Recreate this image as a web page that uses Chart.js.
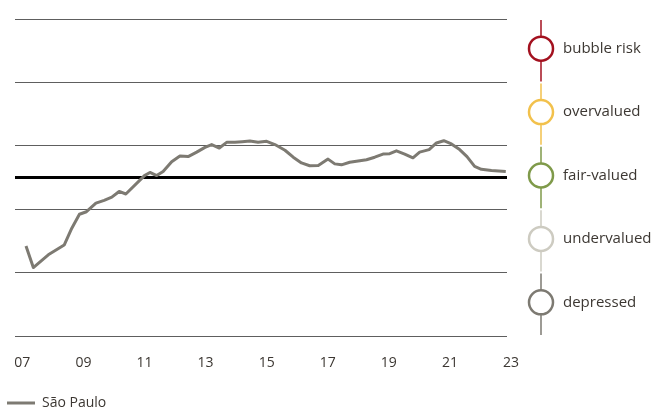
<!DOCTYPE html>
<html>
<head>
<meta charset="utf-8">
<script src="https://cdn.jsdelivr.net/npm/chart.js@4/dist/chart.umd.min.js"></script>
<style>
    html, body { margin: 0; padding: 0; background: #fff; }
    #wrap { width: 657px; height: 408px; }
</style>
</head>
<body>
<div id="wrap"><canvas id="BubbleChart"></canvas></div>
<script>
// Sao Paulo bubble index (decimal years)
var years = [2007.12, 2007.36, 2007.85, 2008.37, 2008.62, 2008.87, 2009.10, 2009.41, 2009.68, 2009.93,
    2010.17, 2010.39, 2011.00, 2011.18, 2011.40, 2011.61, 2011.89, 2012.16, 2012.43, 2012.71,
    2012.98, 2013.20, 2013.45, 2013.69, 2013.96, 2014.20, 2014.45, 2014.72, 2015.00, 2015.27,
    2015.60, 2015.87, 2016.14, 2016.41, 2016.69, 2017.01, 2017.23, 2017.45, 2017.72, 2018.05,
    2018.27, 2018.54, 2018.81, 2019.03, 2019.25, 2019.52, 2019.79, 2020.01, 2020.32, 2020.56,
    2020.80, 2021.05, 2021.32, 2021.56, 2021.81, 2022.03, 2022.36, 2022.83];
var saoPaulo = [-1.08, -1.42, -1.22, -1.065, -0.80, -0.58, -0.54, -0.405, -0.36, -0.31,
    -0.22, -0.26, 0.03, 0.08, 0.03, 0.095, 0.25, 0.34, 0.33, 0.40,
    0.475, 0.52, 0.465, 0.555, 0.555, 0.565, 0.575, 0.555, 0.57, 0.52,
    0.43, 0.32, 0.23, 0.185, 0.19, 0.29, 0.215, 0.20, 0.24, 0.265,
    0.28, 0.32, 0.37, 0.375, 0.42, 0.37, 0.31, 0.40, 0.44, 0.545,
    0.58, 0.53, 0.44, 0.33, 0.175, 0.13, 0.11, 0.095];

var tickYears = [2007, 2009, 2011, 2013, 2015, 2017, 2019, 2021, 2023];
var tickLabels = ["07", "09", "11", "13", "15", "17", "19", "21", "23"];
var gridValues = [-2.5, -1.5, -0.5, 0, 0.5, 1.5, 2.5];

var bandNames = ["bubble risk", "overvalued", "fair-valued", "undervalued", "depressed"];
var bandTops = [2.5, 1.5, 0.5, -0.5, -1.5];
var bandBottoms = [1.5, 0.5, -0.5, -1.5, -2.5];
var bandColours = ["#a3111f", "#f2c14c", "#7f9a4a", "#cdcbc1", "#7d7a72"];

var textColour = "#3c3732";
var fontFamily = "'Open Sans', 'Noto Sans', sans-serif";

var bandScale = {
    id: "bandScale",
    afterDraw: function (chart) {
        var ctx = chart.ctx;
        var y = chart.scales.y;
        var cx = chart.chartArea.right + 34;
        ctx.save();
        bandNames.forEach(function (name, i) {
            var top = y.getPixelForValue(bandTops[i]) + 1;
            var bottom = y.getPixelForValue(bandBottoms[i]) - 1;
            ctx.strokeStyle = bandColours[i];
            ctx.lineWidth = 1.5;
            ctx.beginPath();
            ctx.moveTo(cx, top);
            ctx.lineTo(cx, bottom);
            ctx.stroke();
        });
        bandNames.forEach(function (name, i) {
            var mid = y.getPixelForValue((bandTops[i] + bandBottoms[i]) / 2) - 2;
            ctx.beginPath();
            ctx.arc(cx, mid, 12, 0, Math.PI * 2);
            ctx.fillStyle = "#fff";
            ctx.fill();
            ctx.lineWidth = 2.5;
            ctx.strokeStyle = bandColours[i];
            ctx.stroke();
            ctx.fillStyle = textColour;
            ctx.font = "15px " + fontFamily;
            ctx.textBaseline = "middle";
            ctx.textAlign = "left";
            ctx.fillText(name, cx + 22, mid);
        });
        ctx.restore();
    }
};

function setupChart() {
    var context = document.getElementById("BubbleChart").getContext("2d");
    var points = years.map(function (year, i) {
        return { x: year, y: saoPaulo[i] };
    });
    var chart = new Chart(context, {
        type: "line",
        data: {
            datasets: [{
                label: "São Paulo",
                data: points,
                borderColor: "#7d7a72",
                backgroundColor: "#7d7a72",
                borderWidth: 3,
                pointRadius: 0,
                tension: 0,
                borderJoinStyle: "round"
            }]
        },
        options: {
            responsive: true,
            maintainAspectRatio: false,
            animation: false,
            layout: { padding: { left: 6, right: 150, top: 19, bottom: -12 } },
            scales: {
                x: {
                    type: "linear",
                    min: 2006.76,
                    max: 2022.87,
                    grid: { display: false, drawTicks: false },
                    border: { display: false },
                    afterBuildTicks: function (axis) {
                        axis.ticks = tickYears.map(function (v) { return { value: v }; });
                    },
                    afterFit: function (axis) {
                        axis.height = 59;
                        axis.paddingLeft = 0;
                        axis.paddingRight = 0;
                    },
                    ticks: {
                        autoSkip: false,
                        maxRotation: 0,
                        padding: 19,
                        color: textColour,
                        font: { family: fontFamily, size: 14 },
                        callback: function (value, index) { return tickLabels[index]; }
                    }
                },
                y: {
                    min: -2.5,
                    max: 2.5,
                    afterBuildTicks: function (axis) {
                        axis.ticks = gridValues.map(function (v) { return { value: v }; });
                    },
                    afterFit: function (axis) { axis.width = 9; },
                    border: { display: false },
                    grid: {
                        drawTicks: false,
                        color: function (c) { return c.tick && c.tick.value === 0 ? "#000" : "#5e5e5e"; },
                        lineWidth: function (c) { return c.tick && c.tick.value === 0 ? 3 : 1; }
                    },
                    ticks: { display: false }
                }
            },
            plugins: {
                tooltip: { enabled: false },
                legend: {
                    position: "bottom",
                    align: "start",
                    labels: {
                        usePointStyle: true,
                        pointStyle: "line",
                        pointStyleWidth: 28,
                        padding: 1,
                        color: textColour,
                        font: { family: fontFamily, size: 14 }
                    }
                }
            }
        },
        plugins: [bandScale]
    });
}

setupChart();
</script>
</body>
</html>
